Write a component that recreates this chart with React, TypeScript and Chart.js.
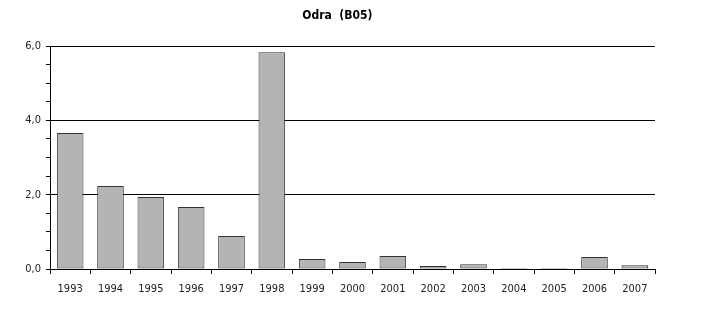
import React, { useEffect, useRef } from "react";
import { Chart, registerables } from "chart.js";

Chart.register(...registerables);

const TITLE = "Odra  (B05)";
const categories = ["1993","1994","1995","1996","1997","1998","1999","2000","2001","2002","2003","2004","2005","2006","2007"];
const values = [3.66, 2.23, 1.94, 1.67, 0.89, 5.83, 0.27, 0.19, 0.35, 0.08, 0.13, 0.03, 0.03, 0.32, 0.1];
const yMin = 0;
const yMax = 6;
const yStep = 0.5;
const yLabelStep = 2;

const FONT = "'Liberation Sans Narrow', 'DejaVu Sans Condensed', 'Arial Narrow', sans-serif";

export default function App() {
  const ref = useRef<HTMLCanvasElement | null>(null);
  useEffect(() => {
    document.body.style.margin = "0";
    const titlePlugin = {
      id: "customTitle",
      afterDraw(chart: any) {
        const { ctx, chartArea } = chart;
        ctx.save();
        ctx.font = `bold 12px ${FONT}`;
        ctx.fillStyle = "#000";
        ctx.textAlign = "center";
        ctx.textBaseline = "middle";
        ctx.fillText(TITLE, chartArea.left + chartArea.width * 0.475, 16);
        ctx.restore();
      },
    };
    const chart = new Chart(ref.current!, {
      type: "bar",
      data: {
        labels: categories,
        datasets: [
          {
            data: values,
            backgroundColor: "#b4b4b4",
            borderColor: "#333333",
            borderWidth: 1,
            borderSkipped: false,
            barPercentage: 0.66,
            categoryPercentage: 1,
          },
        ],
      },
      options: {
        animation: false,
        responsive: false,
        maintainAspectRatio: false,
        layout: { padding: { top: 46, right: 53, left: 0, bottom: 0 } },
        plugins: { legend: { display: false }, tooltip: { enabled: false }, title: { display: false } },
        scales: {
          x: {
            afterFit(scale: any) { scale.height = 45; },
            grid: {
              offset: true,
              drawOnChartArea: false,
              drawTicks: true,
              tickLength: 5,
              tickColor: "#000",
            },
            border: { display: true, color: "#000", width: 1 },
            ticks: { color: "#222", font: { family: FONT, size: 11 }, padding: 9, maxRotation: 0, autoSkip: false },
          },
          y: {
            min: yMin,
            max: yMax,
            afterFit(scale: any) { scale.width = 50; },
            grid: {
              color: (c: any) => (c.tick && Math.abs(c.tick.value % yLabelStep) < 1e-6 && c.tick.value > 0 ? "#000" : "rgba(0,0,0,0)"),
              tickColor: "#000",
              tickLength: 4,
              drawTicks: true,
            },
            border: { display: true, color: "#000", width: 1 },
            ticks: {
              stepSize: yStep,
              color: "#222",
              padding: 5,
              font: { family: FONT, size: 11 },
              callback: (v: any) => (Math.abs(Number(v) % yLabelStep) < 1e-6 ? Number(v).toFixed(1).replace(".", ",") : ""),
            },
          },
        },
      },
      plugins: [titlePlugin],
    });
    return () => chart.destroy();
  }, []);
  return (
    <div style={{ width: 708, height: 314 }}>
      <canvas ref={ref} width={708} height={314} style={{ width: 708, height: 314 }} />
    </div>
  );
}
